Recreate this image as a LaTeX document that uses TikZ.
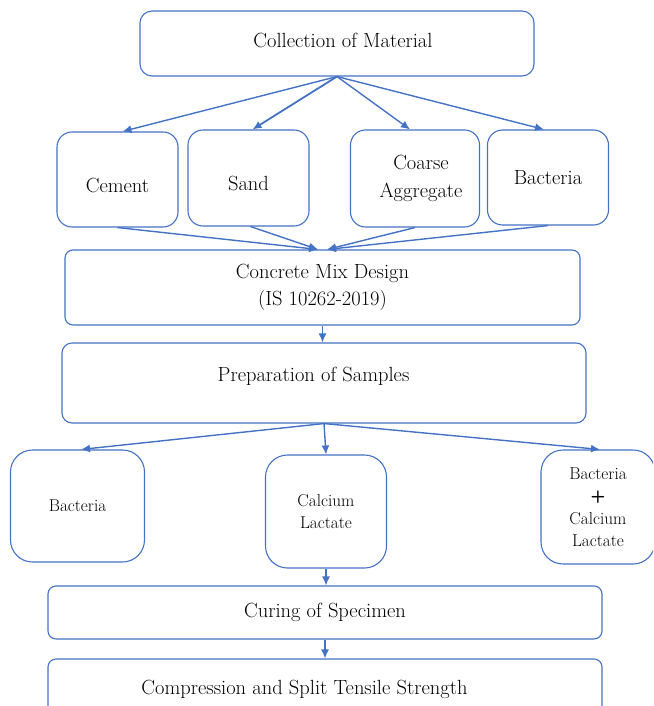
\documentclass[tikz,border=0pt]{standalone}
\usetikzlibrary{arrows.meta, positioning}
\definecolor{boxblue}{HTML}{4472C4}
\tikzstyle{block} = [rectangle, draw=boxblue, line width=1.1pt, text centered, align=center, inner sep=0pt, font={\fontsize{20.5}{26.5}\selectfont}]
\tikzstyle{material} = [block, rounded corners=15pt, minimum width=121pt, minimum height=95pt]
\tikzstyle{stage} = [block, rounded corners=9pt]
\tikzstyle{sample} = [block, rounded corners=22pt, font={\fontsize{17.2}{22.5}\selectfont}]
\tikzstyle{caption} = [inner sep=0pt, align=center, font={\fontsize{20.5}{26.5}\selectfont}]
\tikzstyle{arrow} = [draw=boxblue, line width=1.4pt, -{Latex[length=9pt,width=8pt]}]

\begin{document}
\begin{tikzpicture}[x=1pt, y=-1pt]
    \useasboundingbox (0,0) rectangle (653,706);
    \clip (0,0) rectangle (653,706);

    \node (collect) [stage, rounded corners=12pt, minimum width=394pt, minimum height=65pt,
        label={[caption, xshift=6pt, yshift=3.5pt]center:Collection of Material}] at (337,43.5) {};
    \node (cement) [material, label={[caption, yshift=-5.5pt]center:Cement}] at (117.5,179.5) {};
    \node (sand) [material, minimum height=96pt, label={[caption, yshift=-5pt]center:Sand}] at (248.5,178) {};
    \node (coarse) [material, minimum width=129pt, minimum height=97pt,
        label={[caption, xshift=6pt]center:Coarse\\[2pt]Aggregate}] at (415,178.5) {};
    \node (bacteria) [material] at (548,177.5) {Bacteria};

    \node (mix) [stage, rounded corners=8pt, minimum width=515pt, minimum height=75pt] at (322.5,287.5) {Concrete Mix Design\\(IS 10262-2019)};
    \node (prep) [stage, rounded corners=10pt, minimum width=524pt, minimum height=80pt,
        label={[caption, xshift=-10.5pt, yshift=7pt]center:Preparation of Samples}] at (324,383) {};

    \node (bactsample) [sample, minimum width=134pt, minimum height=112pt] at (77.5,506) {Bacteria};
    \node (lactate) [sample, minimum width=121pt, minimum height=113pt] at (326,511.5) {Calcium\\Lactate};
    \node (both) [sample, minimum width=114pt, minimum height=114pt] at (598,507) {Bacteria\\\textsf{\textbf{+}}\\Calcium\\Lactate};

    \node (curing) [stage, rounded corners=8pt, minimum width=554pt, minimum height=53pt] at (325,612.5) {Curing of Specimen};
    \node (strength) [stage, rounded corners=8pt, minimum width=554pt, minimum height=70pt,
        label={[caption, xshift=-20.5pt, yshift=5pt]center:Compression and Split Tensile Strength}] at (325,694) {};

    \coordinate (mixleft) at ([xshift=-4.5pt]mix.north);
    \coordinate (mixright) at ([xshift=4.5pt]mix.north);

    \draw [arrow] (collect.south) -- ([xshift=5pt]cement.north);
    \draw [arrow, line width=1.8pt] (collect.south) -- ([xshift=4pt]sand.north);
    \draw [arrow] (collect.south) -- ([xshift=-5pt]coarse.north);
    \draw [arrow] (collect.south) -- ([xshift=-4pt]bacteria.north);

    \draw [arrow] (cement.south) -- (mixleft);
    \draw [arrow] ([xshift=2pt]sand.south) -- (mixleft);
    \draw [arrow] (coarse.south) -- (mixright);
    \draw [arrow] (bacteria.south) -- (mixright);

    \draw [arrow] (mix.south) -- (mix.south |- prep.north);

    \draw [arrow] (prep.south) -- ([xshift=3.5pt]bactsample.north);
    \draw [arrow] (prep.south) -- (lactate.north);
    \draw [arrow] (prep.south) -- ([xshift=2pt]both.north);

    \draw [arrow] (lactate.south) -- (lactate.south |- curing.north);
    \draw [arrow] (curing.south) -- (strength.north);
\end{tikzpicture}
\end{document}
